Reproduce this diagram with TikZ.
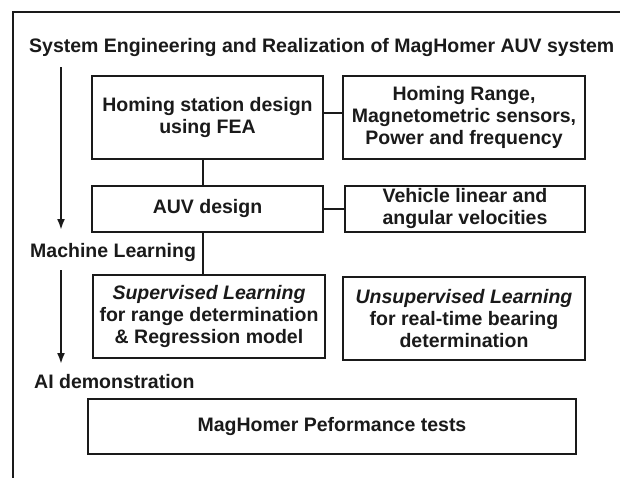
\documentclass[tikz,border=0pt]{standalone}
\usepackage{fontspec}
\setmainfont{Liberation Sans}
\usetikzlibrary{arrows.meta}
\definecolor{ink}{HTML}{1A1A1A}
\begin{document}
\begin{tikzpicture}[x=1pt,y=-1pt,
  every node/.style={text=ink},
  box/.style={draw=ink,line width=2pt,align=center,inner sep=0pt,
    font=\fontsize{19.5}{22}\selectfont\bfseries},
  lbl/.style={anchor=west,inner sep=0pt,font=\fontsize{19.5}{22}\selectfont\bfseries},
  conn/.style={draw=ink,line width=2pt},
  flow/.style={draw=ink,line width=2pt,-{Latex[length=11pt,width=8pt]}}]
\useasboundingbox (0,0) rectangle (620,477);
\fill[white] (0,0) rectangle (620,477);
% outer frame (partially visible)
\draw[ink,line width=2.5pt] (13,480) -- (13,12) -- (625,12);
% title and section labels
\node[lbl] (title) at (29,47) {System Engineering and Realization of MagHomer AUV system};
\node[lbl] (ml) at (30,252) {Machine Learning};
\node[lbl] (ai) at (34,382) {AI demonstration};
% boxes
\node[box,minimum width=231pt,minimum height=83pt] (B1) at (207.5,117.5) {Homing station design\\using FEA};
\node[box,minimum width=242pt,minimum height=83pt] (B2) at (464,117.5) {Homing Range,\\Magnetometric sensors,\\Power and frequency};
\node[box,minimum width=231pt,minimum height=46pt] (B3) at (207.5,208.5) {AUV design};
\node[box,minimum width=240pt,minimum height=46pt] (B4) at (465,208.5) {Vehicle linear and\\angular velocities};
\node[box,minimum width=232pt,minimum height=83pt] (B5) at (209,316.5) {\textit{Supervised Learning}\\for range determination\\\& Regression model};
\node[box,minimum width=242pt,minimum height=83pt] (B6) at (464,318.5) {\textit{Unsupervised Learning}\\for real-time bearing\\determination};
\node[box,minimum width=488pt,minimum height=55pt] (B7) at (332,426.5) {MagHomer Peformance tests};
% connectors
\coordinate (h1) at (0,113);
\coordinate (v1) at (203,0);
\draw[conn] (B1.east|-h1) -- (B2.west|-h1);
\draw[conn] (B3.east) -- (B4.west);
\draw[conn] (B1.south-|v1) -- (B3.north-|v1);
\draw[conn] (B3.south-|v1) -- (B5.north-|v1);
% flow arrows
\coordinate (a1s) at (61,67);
\coordinate (a1e) at (61,230);
\coordinate (a2s) at (61,270);
\coordinate (a2e) at (61,364);
\draw[flow] (a1s) -- (a1e);
\draw[flow] (a2s) -- (a2e);
\end{tikzpicture}
\end{document}
